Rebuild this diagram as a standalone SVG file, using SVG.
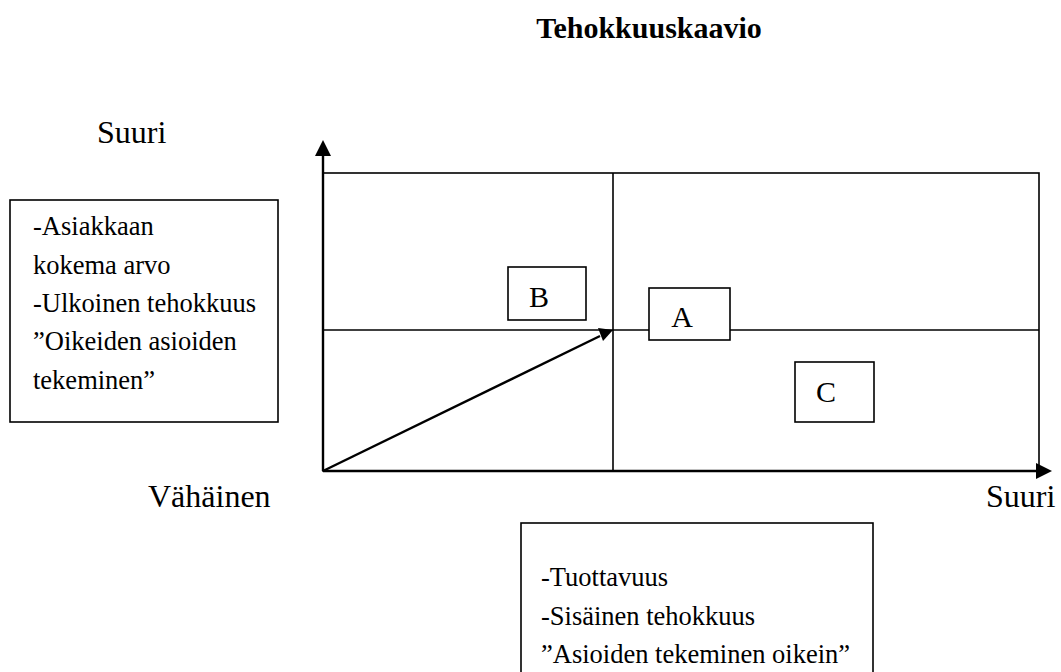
<svg xmlns="http://www.w3.org/2000/svg" width="1061" height="672" viewBox="0 0 1061 672">
  <style>
    text { font-family: "Liberation Serif", "Times New Roman", "DejaVu Serif", serif; fill: #000; }
    .ttl { font-size: 30px; font-weight: bold; }
    .ax { font-size: 32px; }
    .bx { font-size: 26.5px; }
    .lt { font-size: 30px; }
    .frame { fill: none; stroke: #000; stroke-width: 1.6; }
    .box { fill: #fff; stroke: #000; stroke-width: 1.6; }
    .axis { fill: none; stroke: #000; stroke-width: 2.4; }
  </style>

  <rect width="1061" height="672" fill="#fff"/>

  <text class="ttl" x="649" y="38" text-anchor="middle">Tehokkuuskaavio</text>

  <!-- grid of the chart -->
  <g id="grid">
    <rect class="frame" x="323" y="173" width="716" height="298"/>
    <line class="frame" x1="613" y1="173" x2="613" y2="471"/>
    <line class="frame" x1="323" y1="330" x2="1039" y2="330"/>
  </g>

  <!-- axes and the diagonal arrow -->
  <g id="connectors">
    <line class="axis" x1="323" y1="471" x2="323" y2="154"/>
    <path d="M315,156 L323,140 L331,156 z" fill="#000"/>
    <line class="axis" x1="323" y1="471" x2="1037" y2="471"/>
    <path d="M1036,463 L1052,471 L1036,479 z" fill="#000"/>
    <line class="axis" x1="323" y1="471" x2="600" y2="336"/>
    <path d="M598,328 L613,330 L603,341 z" fill="#000"/>
  </g>

  <g id="label-y-high"><text class="ax" x="97" y="143">Suuri</text></g>
  <g id="label-x-low"><text class="ax" x="148" y="507">Vähäinen</text></g>
  <g id="label-x-high"><text class="ax" x="986" y="507">Suuri</text></g>

  <g id="box-left">
    <rect class="box" x="10" y="200" width="268" height="222"/>
    <text class="bx" x="33" y="235">-Asiakkaan</text>
    <text class="bx" x="33" y="274">kokema arvo</text>
    <text class="bx" x="33" y="312">-Ulkoinen tehokkuus</text>
    <text class="bx" x="33" y="350">”Oikeiden asioiden</text>
    <text class="bx" x="33" y="389">tekeminen”</text>
  </g>

  <g id="box-bottom">
    <rect class="box" x="521" y="523" width="352" height="160"/>
    <text class="bx" x="541" y="586">-Tuottavuus</text>
    <text class="bx" x="541" y="625">-Sisäinen tehokkuus</text>
    <text class="bx" x="541" y="663">”Asioiden tekeminen oikein”</text>
  </g>

  <g id="node-B">
    <rect class="box" x="508" y="267" width="78" height="53"/>
    <text class="lt" x="539" y="307" text-anchor="middle">B</text>
  </g>
  <g id="node-A">
    <rect class="box" x="649" y="288" width="81" height="52"/>
    <text class="lt" x="682" y="327" text-anchor="middle">A</text>
  </g>
  <g id="node-C">
    <rect class="box" x="795" y="362" width="79" height="60"/>
    <text class="lt" x="826" y="402" text-anchor="middle">C</text>
  </g>
</svg>
